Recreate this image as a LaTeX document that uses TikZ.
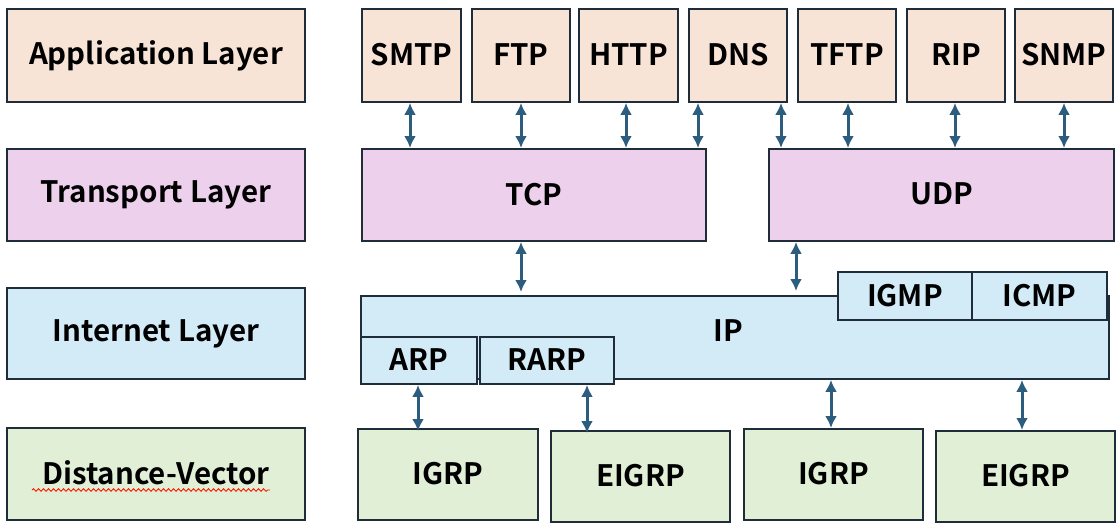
\documentclass[tikz,border=0pt]{standalone}
\usepackage{fontspec}
\setmainfont{Noto Sans CJK KR}[BoldFont={Noto Sans CJK KR Bold}]
\usetikzlibrary{arrows.meta,decorations.pathmorphing}
\definecolor{appc}{HTML}{F7E4D7}
\definecolor{trc}{HTML}{ECD0EC}
\definecolor{inc}{HTML}{D3EAF7}
\definecolor{dvc}{HTML}{E0EFD6}
\definecolor{bord}{HTML}{1F2C39}
\definecolor{arrc}{HTML}{2D5D7E}
\tikzset{
  lbl/.style={font=\fontsize{29.5}{34}\selectfont\bfseries},
  box/.style={draw=bord,line width=1.9pt,anchor=north west,inner sep=0pt,lbl},
  arr/.style={draw=arrc,line width=3pt,{Latex[length=12pt,width=12pt]}-{Latex[length=12pt,width=12pt]}},
}
\newcommand{\bx}[7]{\node[box,fill=#2,minimum width=#5pt,minimum height=#6pt] (#1) at (#3,#4) {\raisebox{2pt}{#7}};}
\begin{document}
\begin{tikzpicture}[x=1pt,y=-1pt]
\useasboundingbox[fill=white] (0,0) rectangle (1120,530);
% left column
\bx{la}{appc}{6}{8}{298}{93}{Application Layer}
\bx{lt}{trc}{6}{148}{298}{92}{Transport Layer}
\bx{li}{inc}{6}{287}{298}{91}{Internet Layer}
\bx{ld}{dvc}{6}{427}{298}{92}{Distance-Vector}
\draw[red!80!orange,line width=0.9pt,decorate,decoration={snake,amplitude=1.3pt,segment length=5pt}] (32,490) -- (270,490);
% application
\bx{smtp}{appc}{361}{8}{99}{93}{SMTP}
\bx{ftp}{appc}{471}{8}{98}{93}{FTP}
\bx{http}{appc}{578}{8}{99}{93}{HTTP}
\bx{dns}{appc}{688}{8}{98}{93}{DNS}
\bx{tftp}{appc}{797}{8}{98}{93}{TFTP}
\bx{rip}{appc}{906}{8}{98}{93}{RIP}
\bx{snmp}{appc}{1014}{8}{98}{93}{SNMP}
% transport
\bx{tcp}{trc}{361}{148}{344}{92}{TCP}
\bx{udp}{trc}{768}{148}{345}{92}{UDP}
% internet
\node[box,fill=inc,minimum width=748pt,minimum height=83pt] (ip) at (360,295) {};
\node[lbl] (iplbl) at (728,331) {IP};
\bx{igmp}{inc}{837}{271}{134}{48}{IGMP}
\bx{icmp}{inc}{971}{271}{135}{48}{ICMP}
\bx{arp}{inc}{360}{336}{116}{47}{ARP}
\bx{rarp}{inc}{479}{336}{134}{47}{RARP}
% bottom
\bx{igrpa}{dvc}{357}{428}{180}{91}{IGRP}
\bx{eigrpa}{dvc}{550}{430}{179}{91}{EIGRP}
\bx{igrpb}{dvc}{743}{428}{179}{91}{IGRP}
\bx{eigrpb}{dvc}{935}{430}{179}{91}{EIGRP}
% arrows app -> transport
\draw[arr] ([xshift=49pt]smtp.south west) -- ([xshift=49pt]smtp.south west |- tcp.north);
\draw[arr] ([xshift=50pt]ftp.south west) -- ([xshift=50pt]ftp.south west |- tcp.north);
\draw[arr] ([xshift=48pt]http.south west) -- ([xshift=48pt]http.south west |- tcp.north);
\draw[arr] ([xshift=10pt]dns.south west) -- ([xshift=10pt]dns.south west |- tcp.north);
\draw[arr] ([xshift=93pt]dns.south west) -- ([xshift=93pt]dns.south west |- udp.north);
\draw[arr] ([xshift=51pt]tftp.south west) -- ([xshift=51pt]tftp.south west |- udp.north);
\draw[arr] ([xshift=49pt]rip.south west) -- ([xshift=49pt]rip.south west |- udp.north);
\draw[arr] ([xshift=50pt]snmp.south west) -- ([xshift=50pt]snmp.south west |- udp.north);
% transport -> internet
\draw[arr] ([xshift=160pt]tcp.south west) -- ([xshift=160pt,yshift=3pt]tcp.south west |- ip.north);
\draw[arr] ([xshift=28pt]udp.south west) -- ([xshift=28pt,yshift=4pt]udp.south west |- ip.north);
% internet -> bottom
\draw[arr] ([xshift=58pt]arp.south west) -- ([xshift=58pt,yshift=-3pt]arp.south west |- igrpa.north);
\draw[arr] ([xshift=108pt]rarp.south west) -- ([xshift=108pt,yshift=-3pt]rarp.south west |- eigrpa.north);
\draw[arr] (igrpb.north -| 831,0) -- (ip.south -| 831,0);
\draw[arr] (eigrpb.north -| 1022,0) -- (ip.south -| 1022,0);
\end{tikzpicture}
\end{document}
